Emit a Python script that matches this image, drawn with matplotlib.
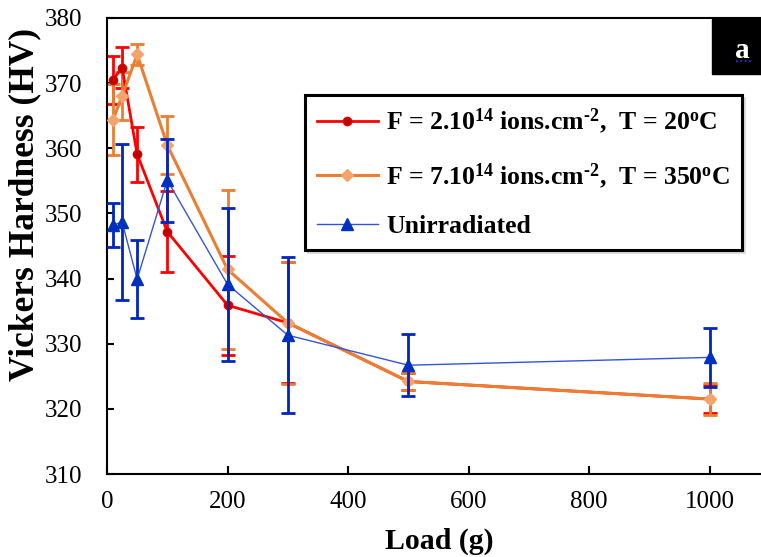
import matplotlib
matplotlib.use('Agg')
import matplotlib.pyplot as plt
from matplotlib.patches import Rectangle
from matplotlib.lines import Line2D

plt.rcParams['font.family'] = 'Liberation Serif'
plt.rcParams['mathtext.fontset'] = 'custom'
plt.rcParams['mathtext.rm'] = 'Liberation Serif:bold'
plt.rcParams['mathtext.bf'] = 'Liberation Serif:bold'
plt.rcParams['mathtext.it'] = 'Liberation Serif:bold'

# data
loads = [10, 25, 50, 100, 200, 300, 500, 1000]

hv_low = [370.5, 372.4, 359.1, 347.2, 335.9, 333.2, 324.2, 321.5]
err_low = [3.7, 3.2, 4.2, 6.2, 7.6, 9.3, 1.3, 2.1]

hv_high = [364.4, 368.0, 374.4, 360.5, 341.4, 333.2, 324.2, 321.5]
err_high = [5.4, 3.7, 1.6, 4.4, 12.2, 9.4, 1.3, 2.4]

hv_unirr = [348.2, 348.7, 339.9, 355.1, 339.1, 331.3, 326.7, 327.9]
err_unirr = [3.4, 12.0, 6.0, 6.4, 11.8, 12.0, 4.8, 4.5]

labels = ['F = 2.10$^{14}$ ions.cm$^{\\text{-2}}$,  T = 20$^{\\mathrm{o}}$C',
          'F = 7.10$^{14}$ ions.cm$^{\\text{-2}}$,  T = 350$^{\\mathrm{o}}$C',
          'Unirradiated']

W, H = 761, 557
fig = plt.figure(figsize=(W / 100, H / 100), dpi=100)
ax = fig.add_axes([107 / W, (H - 474) / H, (W - 107) / W, (474 - 18) / H])

# red series
ax.errorbar(loads, hv_low, yerr=err_low, fmt='none', ecolor='#FF0000',
            elinewidth=2, capsize=5, capthick=2, zorder=2)
ax.plot(loads, hv_low, color='#FF0000', lw=2, marker='o', ms=6,
        mfc='#C00000', mec='#E00000', label=labels[0], zorder=3)

# orange series
ax.errorbar(loads, hv_high, yerr=err_high, fmt='none', ecolor='#ED7D31',
            elinewidth=2, capsize=5, capthick=2, zorder=2)
ax.plot(loads, hv_high, color='#ED7D31', lw=2.2, marker='D', ms=6,
        mfc='#F4A46A', mec='#F4A46A', label=labels[1], zorder=3)

# blue series
ax.errorbar(loads, hv_unirr, yerr=err_unirr, fmt='none', ecolor='#0026BF',
            elinewidth=2, capsize=5, capthick=2, zorder=4)
ax.plot(loads, hv_unirr, color='#3355D6', lw=1, marker='^', ms=9,
        mfc='#0030C0', mec='#0030C0', label=labels[2], zorder=5)

ax.set_xlim(0, 1085)
ax.set_ylim(310, 380)
ax.set_xticks([0, 200, 400, 600, 800, 1000])
ax.set_yticks(range(310, 381, 10))
ax.tick_params(axis='x', direction='in', length=6, width=1.5, pad=12,
               labelsize=18)
ax.tick_params(axis='y', direction='in', length=5, width=1.5, pad=18,
               labelsize=18)
for s in ['left', 'bottom', 'top']:
    ax.spines[s].set_linewidth(1.5)
ax.spines['right'].set_visible(False)

fig.text(439 / W, 1 - 541 / H, 'Load (g)', fontsize=21.5, fontweight='bold',
         ha='center', va='center')
fig.text(25 / W, 1 - 205 / H, 'Vickers Hardness (HV)', fontsize=25.5,
         fontweight='bold', rotation=90, ha='center', va='center')

leg = ax.legend(loc='upper left', bbox_to_anchor=((305 - 107) / 654, (474 - 95) / 456),
                borderaxespad=0, fancybox=False, framealpha=1, edgecolor='black',
                prop={'weight': 'bold', 'size': 18.5}, handlelength=2.4,
                handletextpad=0.3, labelspacing=0.95, borderpad=0.45,
                shadow={'color': '0.75', 'alpha': 0.5})
leg.get_frame().set_linewidth(2.2)

# panel tag in the corner
fig.patches.append(Rectangle((712 / W, 1 - 74 / H), 60 / W, 56 / H,
                             transform=fig.transFigure, color='black', zorder=10))
fig.text(742 / W, 1 - 51 / H, 'a', color='white', fontsize=21,
         fontweight='bold', ha='center', va='center', zorder=11)
fig.add_artist(Line2D([736 / W, 753 / W], [1 - 61 / H, 1 - 61 / H], color='#1F3FFF',
                      lw=1.2, ls=':', zorder=12))

fig.savefig('out.png', dpi=100)
